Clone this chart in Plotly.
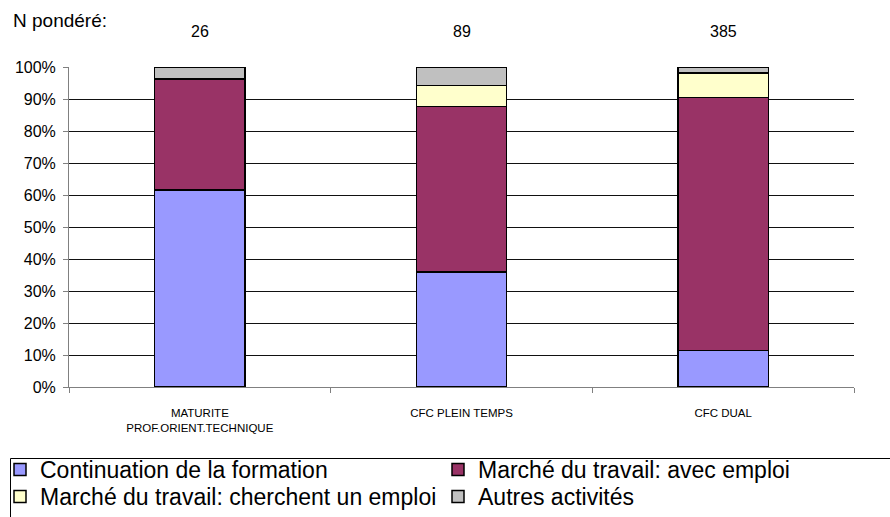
import plotly.graph_objects as go

categories = ["MATURITE<br>PROF.ORIENT.TECHNIQUE", "CFC PLEIN TEMPS", "CFC DUAL"]
n_ponderes = ["26", "89", "385"]
continuation = [61.6, 35.9, 11.4]
avec_emploi = [34.7, 51.7, 79.1]
cherchent = [0.0, 6.6, 7.7]
autres = [3.7, 5.8, 1.8]

series_names = ["Continuation de la formation", "Marché du travail: avec emploi",
                "Marché du travail: cherchent un emploi", "Autres activités"]
series_values = [continuation, avec_emploi, cherchent, autres]
series_colors = ["#9999FF", "#993366", "#FFFFCC", "#C0C0C0"]

font_main = "Liberation Sans, Arial, sans-serif"

W, H = 890, 517
ml, mr, mt, mb = 69, 36, 67, 130
pw, ph = W - ml - mr, H - mt - mb


def px_x(x):
    return (x - ml) / pw


def px_y(y):
    return (H - mb - y) / ph


# legend slots (pixel top-left of each legend box): column, row
legend_pos = [(0, 448), (438, 448), (0, 475), (438, 475)]
legend_ids = ["legend", "legend2", "legend3", "legend4"]

fig = go.Figure()
for name, vals, col, lid in zip(series_names, series_values, series_colors, legend_ids):
    fig.add_trace(go.Bar(
        x=categories, y=vals, name=name,
        marker=dict(color=col, line=dict(color="#000000", width=1.5)),
        width=0.345, legend=lid,
    ))

for cat, n in zip(categories, n_ponderes):
    fig.add_annotation(x=cat, y=px_y(31.5), xref="x", yref="paper",
                       text=n, showarrow=False, yanchor="middle",
                       font=dict(family=font_main, size=16, color="#000"))

fig.add_annotation(x=px_x(11), y=px_y(21), xref="paper", yref="paper", text="N pondéré:",
                   showarrow=False, xanchor="left", yanchor="middle",
                   font=dict(family=font_main, size=19, color="#000"))

# legend frame
fig.add_shape(type="rect", xref="paper", yref="paper",
              x0=px_x(10.5), x1=px_x(905), y0=px_y(458.5), y1=px_y(540),
              line=dict(color="#000", width=1), fillcolor="rgba(0,0,0,0)", layer="above")

legend_layout = {}
for lid, (lx, ly) in zip(legend_ids, legend_pos):
    legend_layout[lid] = dict(
        x=px_x(lx), xanchor="left", y=px_y(ly), yanchor="top",
        bgcolor="rgba(0,0,0,0)", borderwidth=0,
        font=dict(family=font_main, size=23, color="#000"),
        orientation="v",
    )

fig.update_layout(
    barmode="stack",
    width=W, height=H,
    margin=dict(l=ml, r=mr, t=mt, b=mb, autoexpand=False),
    paper_bgcolor="white", plot_bgcolor="white",
    font=dict(family=font_main, size=15, color="#000"),
    showlegend=True,
    xaxis=dict(
        showline=True, linecolor="#808080", linewidth=1,
        ticks="outside", ticklen=5, tickcolor="#808080", tickson="boundaries",
        tickfont=dict(family=font_main, size=11.5, color="#000"),
        ticklabelstandoff=15,
        showgrid=False,
    ),
    yaxis=dict(
        range=[0, 100], dtick=10, ticksuffix="%",
        showline=True, linecolor="#808080", linewidth=1,
        ticks="outside", ticklen=5, tickcolor="#808080",
        ticklabelstandoff=4,
        showgrid=True, gridcolor="#111", gridwidth=1,
        tickfont=dict(family=font_main, size=16, color="#000"),
        zeroline=False,
    ),
    **legend_layout,
)

fig.write_html("out.html", config={"displayModeBar": False},
               post_script="document.body.style.margin='0px';")
